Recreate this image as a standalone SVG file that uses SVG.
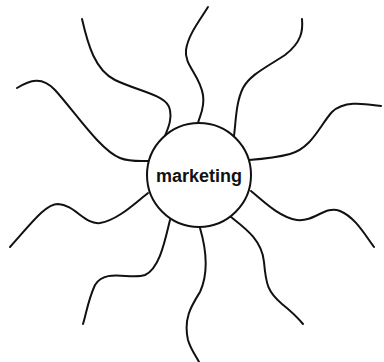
<svg xmlns="http://www.w3.org/2000/svg" width="384" height="362" viewBox="0 0 384 362">
<style>
.ray{fill:none;stroke:#111;stroke-width:2;stroke-linecap:round}
.hub{fill:#fff;stroke:#111;stroke-width:2}
.lbl{font-family:"Liberation Sans",Arial,sans-serif;font-weight:bold;font-size:18px;fill:#111;text-anchor:middle}
</style>
<rect width="384" height="362" fill="#fff"/>
<g id="connectors">
<path class="ray" d="M82,19 C88,45 95,70 115,80 C140,92 168,95 170,110 C172,120 168,128 165,136"/>
<path class="ray" d="M17,88 C30,80 42,76 55,90 C75,112 100,150 120,158 C130,162 140,161 149,161"/>
<path class="ray" d="M208,7 C200,20 188,35 186,50 C184,65 200,75 203,95 C205,108 200,115 198,123"/>
<path class="ray" d="M302,19 C303,30 302,42 285,55 C265,68 250,75 243,88 C236,102 236,120 234,136"/>
<path class="ray" d="M381,106 C365,104 345,100 332,112 C320,125 312,148 290,154 C275,158 262,159 249,160"/>
<path class="ray" d="M148,193 C135,203 118,220 100,223 C85,225 75,205 58,204 C45,204 30,225 10,247"/>
<path class="ray" d="M170,220 C165,240 160,268 145,275 C130,280 105,268 95,285 C88,300 86,315 83,324"/>
<path class="ray" d="M200,228 C205,245 210,270 200,292 C192,305 183,318 188,340 C191,350 196,356 199,362"/>
<path class="ray" d="M231,217 C245,228 262,240 264,262 C266,285 268,292 282,304 C292,312 298,318 303,324"/>
<path class="ray" d="M251,191 C262,200 280,218 297,220 C315,222 325,205 340,211 C355,217 365,235 374,247"/>
</g>
<g id="marketing">
<circle class="hub" cx="199" cy="175" r="52"/>
<text class="lbl" x="199" y="182">marketing</text>
</g>
</svg>
